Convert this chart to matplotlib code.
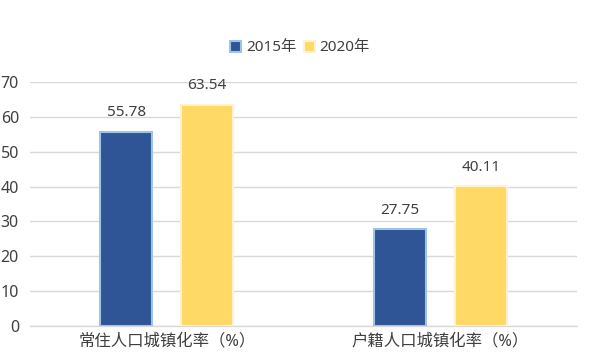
import matplotlib
matplotlib.use("Agg")
import matplotlib.pyplot as plt
import numpy as np
from matplotlib.patches import Patch

plt.rcParams['font.family'] = ['Noto Sans', 'Noto Sans CJK SC', 'DejaVu Sans']

categories = ['常住人口城镇化率（%）', '户籍人口城镇化率（%）']
series_names = ['2015年', '2020年']
values_2015 = [55.78, 27.75]
values_2020 = [63.54, 40.11]
yticks = [0, 10, 20, 30, 40, 50, 60, 70]

face_colors = ['#2f5597', '#ffd966']
edge_colors = ['#9dc3e6', '#fff2cc']
text_color = '#404040'

fig = plt.figure(figsize=(5.92, 3.63), dpi=100)
ax = fig.add_axes([30/592, 1 - 326/363, 547/592, (326 - 82)/363])

x = np.arange(len(categories))
w = 0.19
off = 0.148
for i, (vals, name) in enumerate(zip([values_2015, values_2020], series_names)):
    pos = x + (-off if i == 0 else off)
    bars = ax.bar(pos, vals, width=w, color=face_colors[i], edgecolor=edge_colors[i],
                  linewidth=1.5, zorder=3)
    for b, v in zip(bars, vals):
        ax.annotate(f'{v:.2f}', (b.get_x() + b.get_width()/2, v), xytext=(0, 8),
                    textcoords='offset points', ha='center', va='bottom',
                    fontsize=11, color=text_color)

ax.set_xlim(-0.5, 1.5)
ax.set_ylim(0, 70)
ax.set_yticks(yticks)
ax.set_yticklabels([str(t) for t in yticks], fontsize=11.5, color=text_color)
ax.set_xticks(x)
ax.set_xticklabels(categories, fontsize=11.8, color=text_color)
ax.tick_params(axis='both', length=0)
ax.tick_params(axis='y', pad=8)
ax.tick_params(axis='x', pad=5)
ax.grid(axis='y', color='#d9d9d9', linewidth=1, zorder=0)
for s in ['left', 'right', 'top']:
    ax.spines[s].set_visible(False)
ax.spines['bottom'].set_color('#d9d9d9')
ax.spines['bottom'].set_linewidth(1)

handles = [Patch(facecolor=face_colors[i], edgecolor=edge_colors[i], linewidth=1.5, label=series_names[i])
           for i in range(2)]
leg = fig.legend(handles=handles, loc='center', bbox_to_anchor=(300/592, 1 - 48/363), ncol=2,
                 frameon=False, fontsize=11, handlelength=0.72, handleheight=0.72,
                 handletextpad=0.3, columnspacing=0.5)
for t in leg.get_texts():
    t.set_color(text_color)

fig.savefig('out.png', dpi=100)
